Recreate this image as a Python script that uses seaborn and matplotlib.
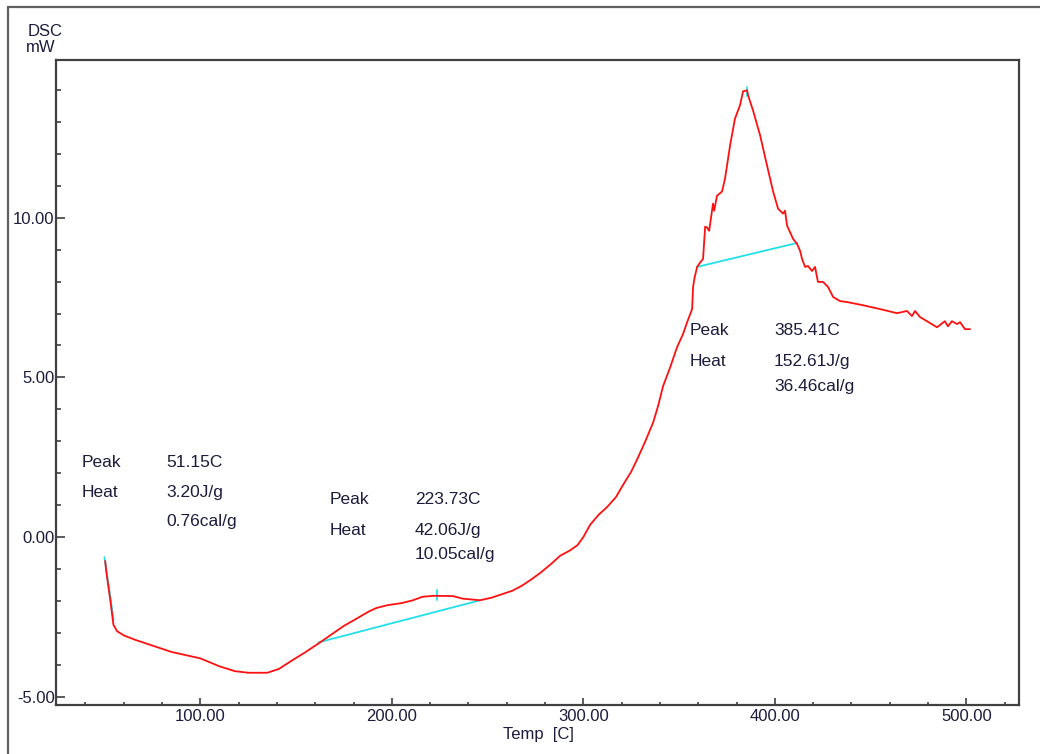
import seaborn as sns
import matplotlib.pyplot as plt
from matplotlib.ticker import MultipleLocator, FormatStrFormatter
from matplotlib.lines import Line2D

# DSC trace
temp = [50.3, 50.8, 51.5, 53.0, 54.6, 56.5, 60, 66, 74, 85, 100, 110, 118, 125, 135,
        141, 148, 155, 162, 168, 175, 182, 188, 192, 198, 205, 211, 216, 222, 232,
        237, 246, 252, 257, 263, 268, 273, 278, 283, 288, 293, 297, 300, 303.5, 308,
        312.4, 317, 320.8, 325, 328, 332, 336.4, 339, 341.6, 345.3, 348.9, 352, 354.2,
        356.8, 357.3, 358, 359.4, 361, 362.5, 363.6, 364.5, 365.7, 367.7, 368.3, 369.8,
        372.4, 374.0, 376.6, 379.2, 381.8, 383.4, 385.5, 386.0, 388.6, 392.3, 395.9,
        399.1, 401.7, 404.3, 405.3, 406.4, 409.5, 411.6, 413.2, 414.2, 415.8, 417.3,
        419.4, 421.0, 422.5, 425.2, 427.8, 430.4, 434.0, 437.7, 446.0, 454.9, 463.8,
        469, 471.6, 473.2, 475.8, 479.4, 484.7, 488.8, 490.4, 492.5, 495.1, 496.7,
        499.3, 501.9]
dsc = [-0.75, -1.05, -1.35, -2.0, -2.75, -2.95, -3.08, -3.22, -3.38, -3.6, -3.8, -4.05,
       -4.2, -4.25, -4.25, -4.13, -3.86, -3.6, -3.32, -3.07, -2.78, -2.54, -2.33, -2.22,
       -2.13, -2.07, -1.98, -1.87, -1.84, -1.85, -1.93, -1.98, -1.90, -1.80, -1.68,
       -1.52, -1.32, -1.10, -0.85, -0.58, -0.42, -0.25, 0.0, 0.38, 0.70, 0.94, 1.25,
       1.64, 2.05, 2.42, 2.95, 3.58, 4.1, 4.72, 5.31, 5.94, 6.35, 6.73, 7.14, 7.83, 8.1,
       8.46, 8.6, 8.71, 9.72, 9.7, 9.59, 10.44, 10.22, 10.69, 10.82, 11.23, 12.26, 13.11,
       13.52, 13.96, 13.99, 13.84, 13.36, 12.58, 11.64, 10.82, 10.28, 10.13, 10.22, 9.75,
       9.34, 9.18, 8.96, 8.71, 8.46, 8.49, 8.33, 8.46, 7.99, 7.99, 7.83, 7.52, 7.39,
       7.36, 7.26, 7.14, 7.01, 7.08, 6.92, 7.08, 6.89, 6.76, 6.57, 6.76, 6.60, 6.76,
       6.67, 6.73, 6.51, 6.51]

# baselines (start/end) and peak marks
base_t = [(49.9, 54.7), (161.6, 246.1), (359.4, 411.6)]
base_y = [(-0.63, -2.6), (-3.30, -1.98), (8.46, 9.21)]
peak_t = [223.73, 385.41]
peak_y = [(-1.66, -1.97), (14.1, 13.8)]

# annotation texts
peaks = ["51.15C", "223.73C", "385.41C"]
heats = ["3.20J/g", "42.06J/g", "152.61J/g"]
cals = ["0.76cal/g", "10.05cal/g", "36.46cal/g"]
label_x = [(38.2, 82.1), (167.7, 212.1), (355.6, 399.5)]
label_y = [(2.32, 1.38, 0.50), (1.19, 0.19, -0.56), (6.48, 5.51, 4.70)]

sns.set_style("ticks")
plt.rcParams['font.family'] = ['Liberation Sans', 'DejaVu Sans']
txt = '#1c1c3c'

fig = plt.figure(figsize=(10.4, 7.54), dpi=100)
ax = fig.add_axes([56 / 1040, 1 - 705 / 754, (1019 - 56) / 1040, (705 - 60) / 754])

for (t0, t1), (y0, y1) in zip(base_t, base_y):
    sns.lineplot(x=[t0, t1], y=[y0, y1], color='#22e0ea', lw=1.3, ax=ax,
                 sort=False, estimator=None)
for t, (y0, y1) in zip(peak_t, peak_y):
    sns.lineplot(x=[t, t], y=[y0, y1], color='#22e0ea', lw=1.3, ax=ax,
                 sort=False, estimator=None)
sns.lineplot(x=temp, y=dsc, color='#ff1010', lw=1.3, ax=ax, sort=False, estimator=None)

for i in range(3):
    xa, xb = label_x[i]
    ya, yb, yc = label_y[i]
    ax.text(xa, ya, "Peak", fontsize=12.5, color=txt, va='center')
    ax.text(xb, ya, peaks[i], fontsize=12.5, color=txt, va='center')
    ax.text(xa, yb, "Heat", fontsize=12.5, color=txt, va='center')
    ax.text(xb, yb, heats[i], fontsize=12.5, color=txt, va='center')
    ax.text(xb, yc, cals[i], fontsize=12.5, color=txt, va='center')

ax.set_xlim(24.6, 527.5)
ax.set_ylim(-5.26, 14.94)
ax.xaxis.set_major_locator(MultipleLocator(100))
ax.xaxis.set_minor_locator(MultipleLocator(20))
ax.yaxis.set_major_locator(MultipleLocator(5))
ax.yaxis.set_minor_locator(MultipleLocator(1))
ax.xaxis.set_major_formatter(FormatStrFormatter('%.2f'))
ax.yaxis.set_major_formatter(FormatStrFormatter('%.2f'))
ax.tick_params(which='both', direction='in', colors='#404040', labelcolor=txt,
               labelsize=12, width=1.2)
ax.tick_params(axis='y', which='major', length=6.5, pad=1)
ax.tick_params(axis='y', which='minor', length=3.5)
ax.tick_params(axis='x', which='major', length=5, pad=3)
ax.tick_params(axis='x', which='minor', length=2.5)
for s in ax.spines.values():
    s.set_color('#404040')
    s.set_linewidth(1.6)
ax.set_xlabel("")
ax.set_ylabel("")

fig.text(28 / 1040, 1 - 32 / 754, "DSC", fontsize=12, color=txt, va='center')
fig.text(26 / 1040, 1 - 48 / 754, "mW", fontsize=12, color=txt, va='center')
fig.text(538 / 1040, 1 - 734 / 754, "Temp  [C]", fontsize=12, color=txt,
         va='center', ha='center')

# outer frame
fig.add_artist(Line2D([8 / 1040, 1], [1 - 7 / 754] * 2, color='#606060', lw=1.6))
fig.add_artist(Line2D([8 / 1040] * 2, [0, 1 - 7 / 754], color='#606060', lw=1.6))

fig.savefig("out.png", dpi=100)
